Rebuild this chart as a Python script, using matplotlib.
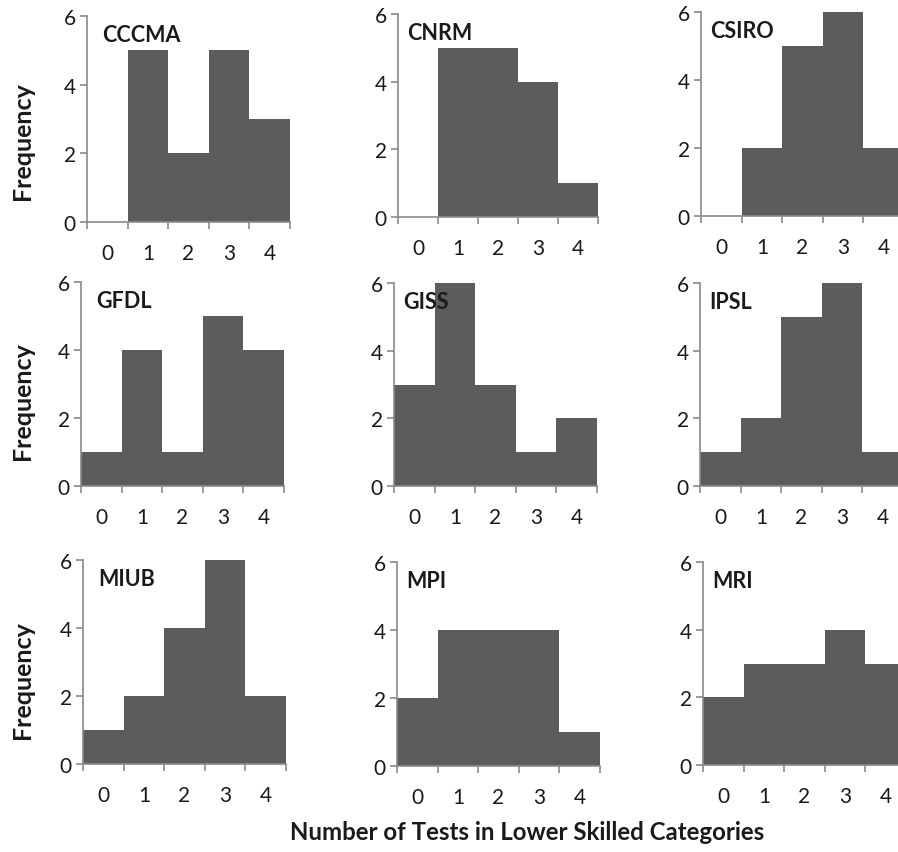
import matplotlib
matplotlib.use("Agg")
import matplotlib.pyplot as plt
import numpy as np

# ---- data ----
models = ["CCCMA", "CNRM", "CSIRO", "GFDL", "GISS", "IPSL", "MIUB", "MPI", "MRI"]
categories = [0, 1, 2, 3, 4]
cccma = [0, 5, 2, 5, 3]
cnrm = [0, 5, 5, 4, 1]
csiro = [0, 2, 5, 6, 2]
gfdl = [1, 4, 1, 5, 4]
giss = [3, 6, 3, 1, 2]
ipsl = [1, 2, 5, 6, 1]
miub = [1, 2, 4, 6, 2]
mpi = [2, 4, 4, 4, 1]
mri = [2, 3, 3, 4, 3]
series = [cccma, cnrm, csiro, gfdl, giss, ipsl, miub, mpi, mri]
y_ticks = [0, 2, 4, 6]

# ---- layout (pixel boxes: left, right, y of 0, y of 6) ----
W, H = 898, 853
boxes = [
    (87, 290, 223, 17), (398, 598, 218, 15), (701, 904, 217, 13),
    (81, 284, 487, 283), (394, 597, 487, 284), (700, 903, 487, 284),
    (83, 286, 765, 561), (397, 600, 767, 563), (703, 906, 766, 563),
]

plt.rcParams['font.family'] = ['Lato', 'DejaVu Sans']
BAR = '#5c5c5c'
AX = '#8a8a8a'
TXT = '#1a1a1a'

fig = plt.figure(figsize=(W / 100, H / 100), dpi=100)

for i, (name, vals, (l, r, y0, y6)) in enumerate(zip(models, series, boxes)):
    ax = fig.add_axes([l / W, 1 - y0 / H, (r - l) / W, (y0 - y6) / H])
    ax.bar(categories, vals, width=1.0, color=BAR, edgecolor='none')
    ax.set_xlim(-0.5, 4.5)
    ax.set_ylim(0, 6)
    for s in ['top', 'right']:
        ax.spines[s].set_visible(False)
    for s in ['left', 'bottom']:
        ax.spines[s].set_color(AX)
        ax.spines[s].set_linewidth(1.2)
    ax.set_yticks(y_ticks)
    ax.tick_params(axis='y', direction='out', length=5, width=1.2, color=AX,
                   pad=3, labelsize=15, labelcolor=TXT)
    edges = np.arange(len(categories) + 1) - 0.5
    ax.set_xticks(edges)
    ax.set_xticklabels([])
    ax.set_xticks(categories, minor=True)
    ax.set_xticklabels([str(c) for c in categories], minor=True)
    ax.tick_params(axis='x', which='major', direction='out', length=5, width=1.2, color=AX)
    ax.tick_params(axis='x', which='minor', length=0, pad=15, labelsize=15, labelcolor=TXT)
    off = 15 if i % 3 == 0 else 9
    ax.annotate(name, xy=(0, 1), xycoords='axes fraction',
                xytext=(off * 0.72, -25 * 0.72), textcoords='offset points',
                ha='left', va='baseline', fontsize=15.5, fontweight='bold', color=TXT)

# Frequency labels
for yc in [141, 401, 680]:
    fig.text(22 / W, 1 - yc / H, 'Frequency', rotation=90, ha='center', va='center',
             fontsize=18, fontweight='bold', color=TXT)

fig.text(527 / W, 1 - 833 / H, 'Number of Tests in Lower Skilled Categories',
         ha='center', va='center', fontsize=17.3, fontweight='bold', color=TXT)

fig.savefig('out.png', dpi=100)
